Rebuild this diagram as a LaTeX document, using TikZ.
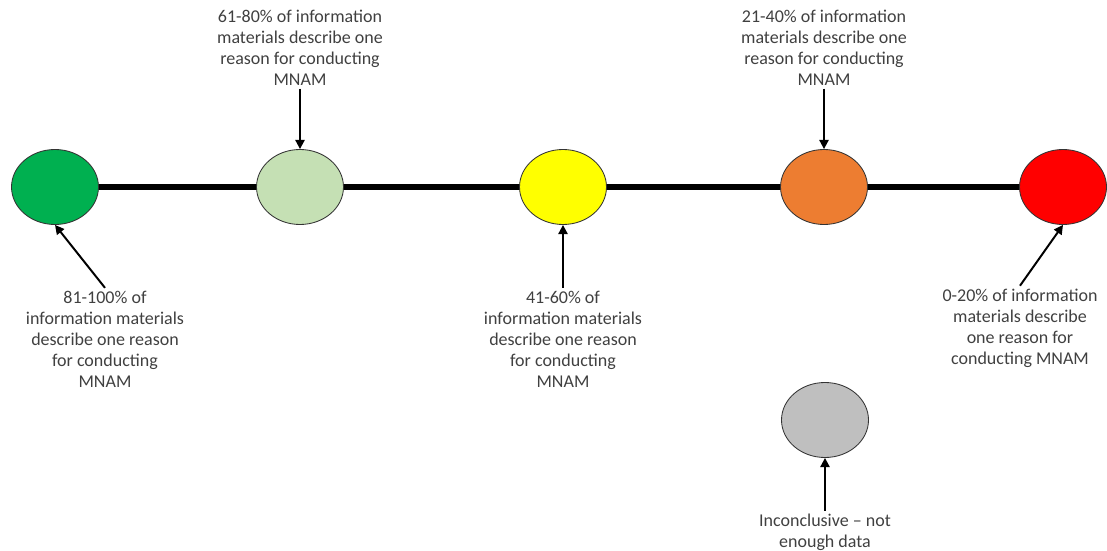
\documentclass[tikz,border=0pt]{standalone}
\usepackage{fontspec}
\setmainfont{Carlito}
\usepackage{xcolor}
\usetikzlibrary{arrows.meta,positioning,shapes.geometric}

\definecolor{scgreen}{HTML}{00B050}
\definecolor{sclight}{HTML}{C5E0B4}
\definecolor{scyellow}{HTML}{FFFF00}
\definecolor{scorange}{HTML}{ED7D31}
\definecolor{scred}{HTML}{FF0000}
\definecolor{scgray}{HTML}{BFBFBF}
\definecolor{txtgray}{HTML}{404040}

\begin{document}
\begin{tikzpicture}[
  dot/.style={ellipse, draw=black!80, line width=0.6pt, minimum width=2.175cm,
              minimum height=1.875cm, inner sep=0pt},
  lbl/.style={align=center, text=txtgray, inner sep=2pt,
              font=\fontsize{12.8}{14.9}\selectfont},
  ptr/.style={-{Triangle[length=6.5pt,width=6.5pt]}, line width=1.4pt},
  >=Stealth
]
  \useasboundingbox (0,0) rectangle (27.675,-13.775);

  %--- Scale line ---
  \foreach \n/\x/\c in {a/1.375/scgreen, b/7.5/sclight, c/14.075/scyellow,
                        d/20.6/scorange, e/26.575/scred}{
    \node[dot, fill=\c] (\n) at (\x, -4.675) {};
  }
  \draw[line width=4.3pt] (a) -- (b);
  \draw[line width=4.3pt] (b) -- (c);
  \draw[line width=4.3pt] (c) -- (d);
  \draw[line width=4.3pt] (d) -- (e);

  %--- Labels above ---
  \node[lbl] (tb) at (7.5, -1.2)
        {61-80\% of information\\materials describe one\\reason for conducting\\MNAM};
  \node[lbl] (td) at (20.6, -1.2)
        {21-40\% of information\\materials describe one\\reason for conducting\\MNAM};
  \draw[ptr] (tb) -- (b);
  \draw[ptr] (td) -- (d);

  %--- Labels below ---
  \node[lbl] (ba) at (2.625, -8.475)
        {81-100\% of\\information materials\\describe one reason\\for conducting\\MNAM};
  \node[lbl] (bc) at (14.075, -8.475)
        {41-60\% of\\information materials\\describe one reason\\for conducting\\MNAM};
  \node[lbl] (be) at (25.5, -8.2)
        {0-20\% of information\\materials describe\\one reason for\\conducting MNAM};
  \draw[ptr] (ba.north) -- (a.south);
  \draw[ptr] (bc) -- (c);
  \draw[ptr] (be.north) -- (e.south);

  %--- Inconclusive ---
  \node[dot, fill=scgray] (g) at (20.625, -10.5) {};
  \node[lbl] (bg) at (20.625, -13.3) {Inconclusive -- not\\enough data};
  \draw[ptr] (bg) -- (g);

\end{tikzpicture}
\end{document}
